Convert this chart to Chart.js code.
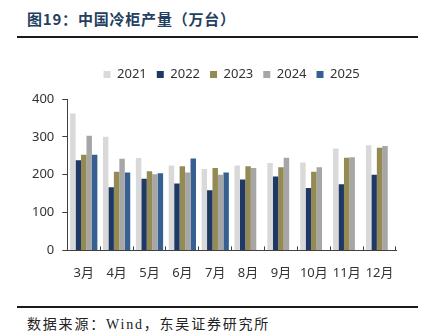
<!DOCTYPE html>
<html>
<head>
<meta charset="utf-8">
<script src="https://cdn.jsdelivr.net/npm/chart.js@4.4.1/dist/chart.umd.min.js"></script>
<style>
    body { margin: 0; width: 432px; height: 335px; background: #fff; position: relative; overflow: hidden; }
    #title { position: absolute; left: 27px; top: 8px; font: bold 15px "Noto Sans CJK SC"; letter-spacing: 0.8px; color: #243f60; white-space: nowrap; }
    #topline { position: absolute; left: 17px; top: 36px; width: 401px; height: 2px; background: #1a1a1a; }
    #bottomline { position: absolute; left: 17px; top: 306px; width: 401px; height: 1.5px; background: #1a1a1a; }
    #source { position: absolute; left: 27px; top: 313px; font: 14px "Liberation Serif", "Noto Sans CJK SC"; letter-spacing: 1.8px; color: #222; white-space: nowrap; }
    #wrap { position: absolute; left: 24px; top: 45px; width: 408px; height: 255px; }
</style>
</head>
<body>
<div id="title">图19：中国冷柜产量（万台）</div>
<div id="topline"></div>
<div id="wrap"><canvas id="myChart"></canvas></div>
<div id="bottomline"></div>
<div id="source">数据来源：Wind，东吴证券研究所</div>
<script>
// monthly freezer output, 10k units
var months = ['3月', '4月', '5月', '6月', '7月', '8月', '9月', '10月', '11月', '12月'];
var y2021 = [362, 300, 244, 224, 215, 224, 231, 232, 269, 278];
var y2022 = [238, 167, 189, 177, 159, 187, 195, 165, 175, 200];
var y2023 = [253, 208, 209, 222, 218, 222, 220, 208, 245, 271];
var y2024 = [303, 242, 201, 206, 200, 218, 245, 220, 246, 276];
var y2025 = [253, 206, 204, 243, 206, null, null, null, null, null];
var yTicks = [0, 100, 200, 300, 400];

var seriesNames = ['2021', '2022', '2023', '2024', '2025'];
var seriesData = [y2021, y2022, y2023, y2024, y2025];
var seriesColors = ['#d9d9d9', '#1f3864', '#948a54', '#a6a6a6', '#366092'];

var datasets = [];
for (let i = 0; i < seriesNames.length; i++) {
    datasets.push({
        label: seriesNames[i],
        data: seriesData[i],
        backgroundColor: seriesColors[i],
        borderWidth: 0,
        categoryPercentage: 0.83,
        barPercentage: 1.0
    });
}

var font = { family: '"Noto Sans", "Noto Sans CJK SC"', size: 13 };

// extra room between the legend and the plot
var legendGap = {
    id: 'legendGap',
    beforeInit: function (chart) {
        var fit = chart.legend.fit;
        chart.legend.fit = function () {
            fit.bind(chart.legend)();
            this.height += 8;
        };
    }
};

var ctx = document.getElementById('myChart').getContext('2d');
window.myChart = new Chart(ctx, {
    type: 'bar',
    data: { labels: months, datasets: datasets },
    plugins: [legendGap],
    options: {
        responsive: true,
        maintainAspectRatio: false,
        animation: false,
        layout: { padding: { right: 36, top: 13, bottom: 0, left: 0 } },
        plugins: {
            tooltip: { enabled: false },
            legend: {
                position: 'top',
                fullSize: false,
                labels: { boxWidth: 7, boxHeight: 7, padding: 10, color: '#333', font: font }
            }
        },
        scales: {
            x: {
                grid: { drawOnChartArea: false, tickLength: -4, color: '#404040', tickColor: '#404040' },
                border: { color: '#404040', width: 1 },
                ticks: { color: '#333', font: font, padding: 19, maxRotation: 0, minRotation: 0, autoSkip: false }
            },
            y: {
                min: 0,
                max: 400,
                afterBuildTicks: function (axis) {
                    axis.ticks = yTicks.map(function (v) { return { value: v }; });
                },
                grid: { drawOnChartArea: false, tickLength: 5, tickColor: '#404040' },
                border: { color: '#404040', width: 1 },
                ticks: { color: '#333', font: font, padding: 8 }
            }
        }
    }
});
</script>
</body>
</html>
